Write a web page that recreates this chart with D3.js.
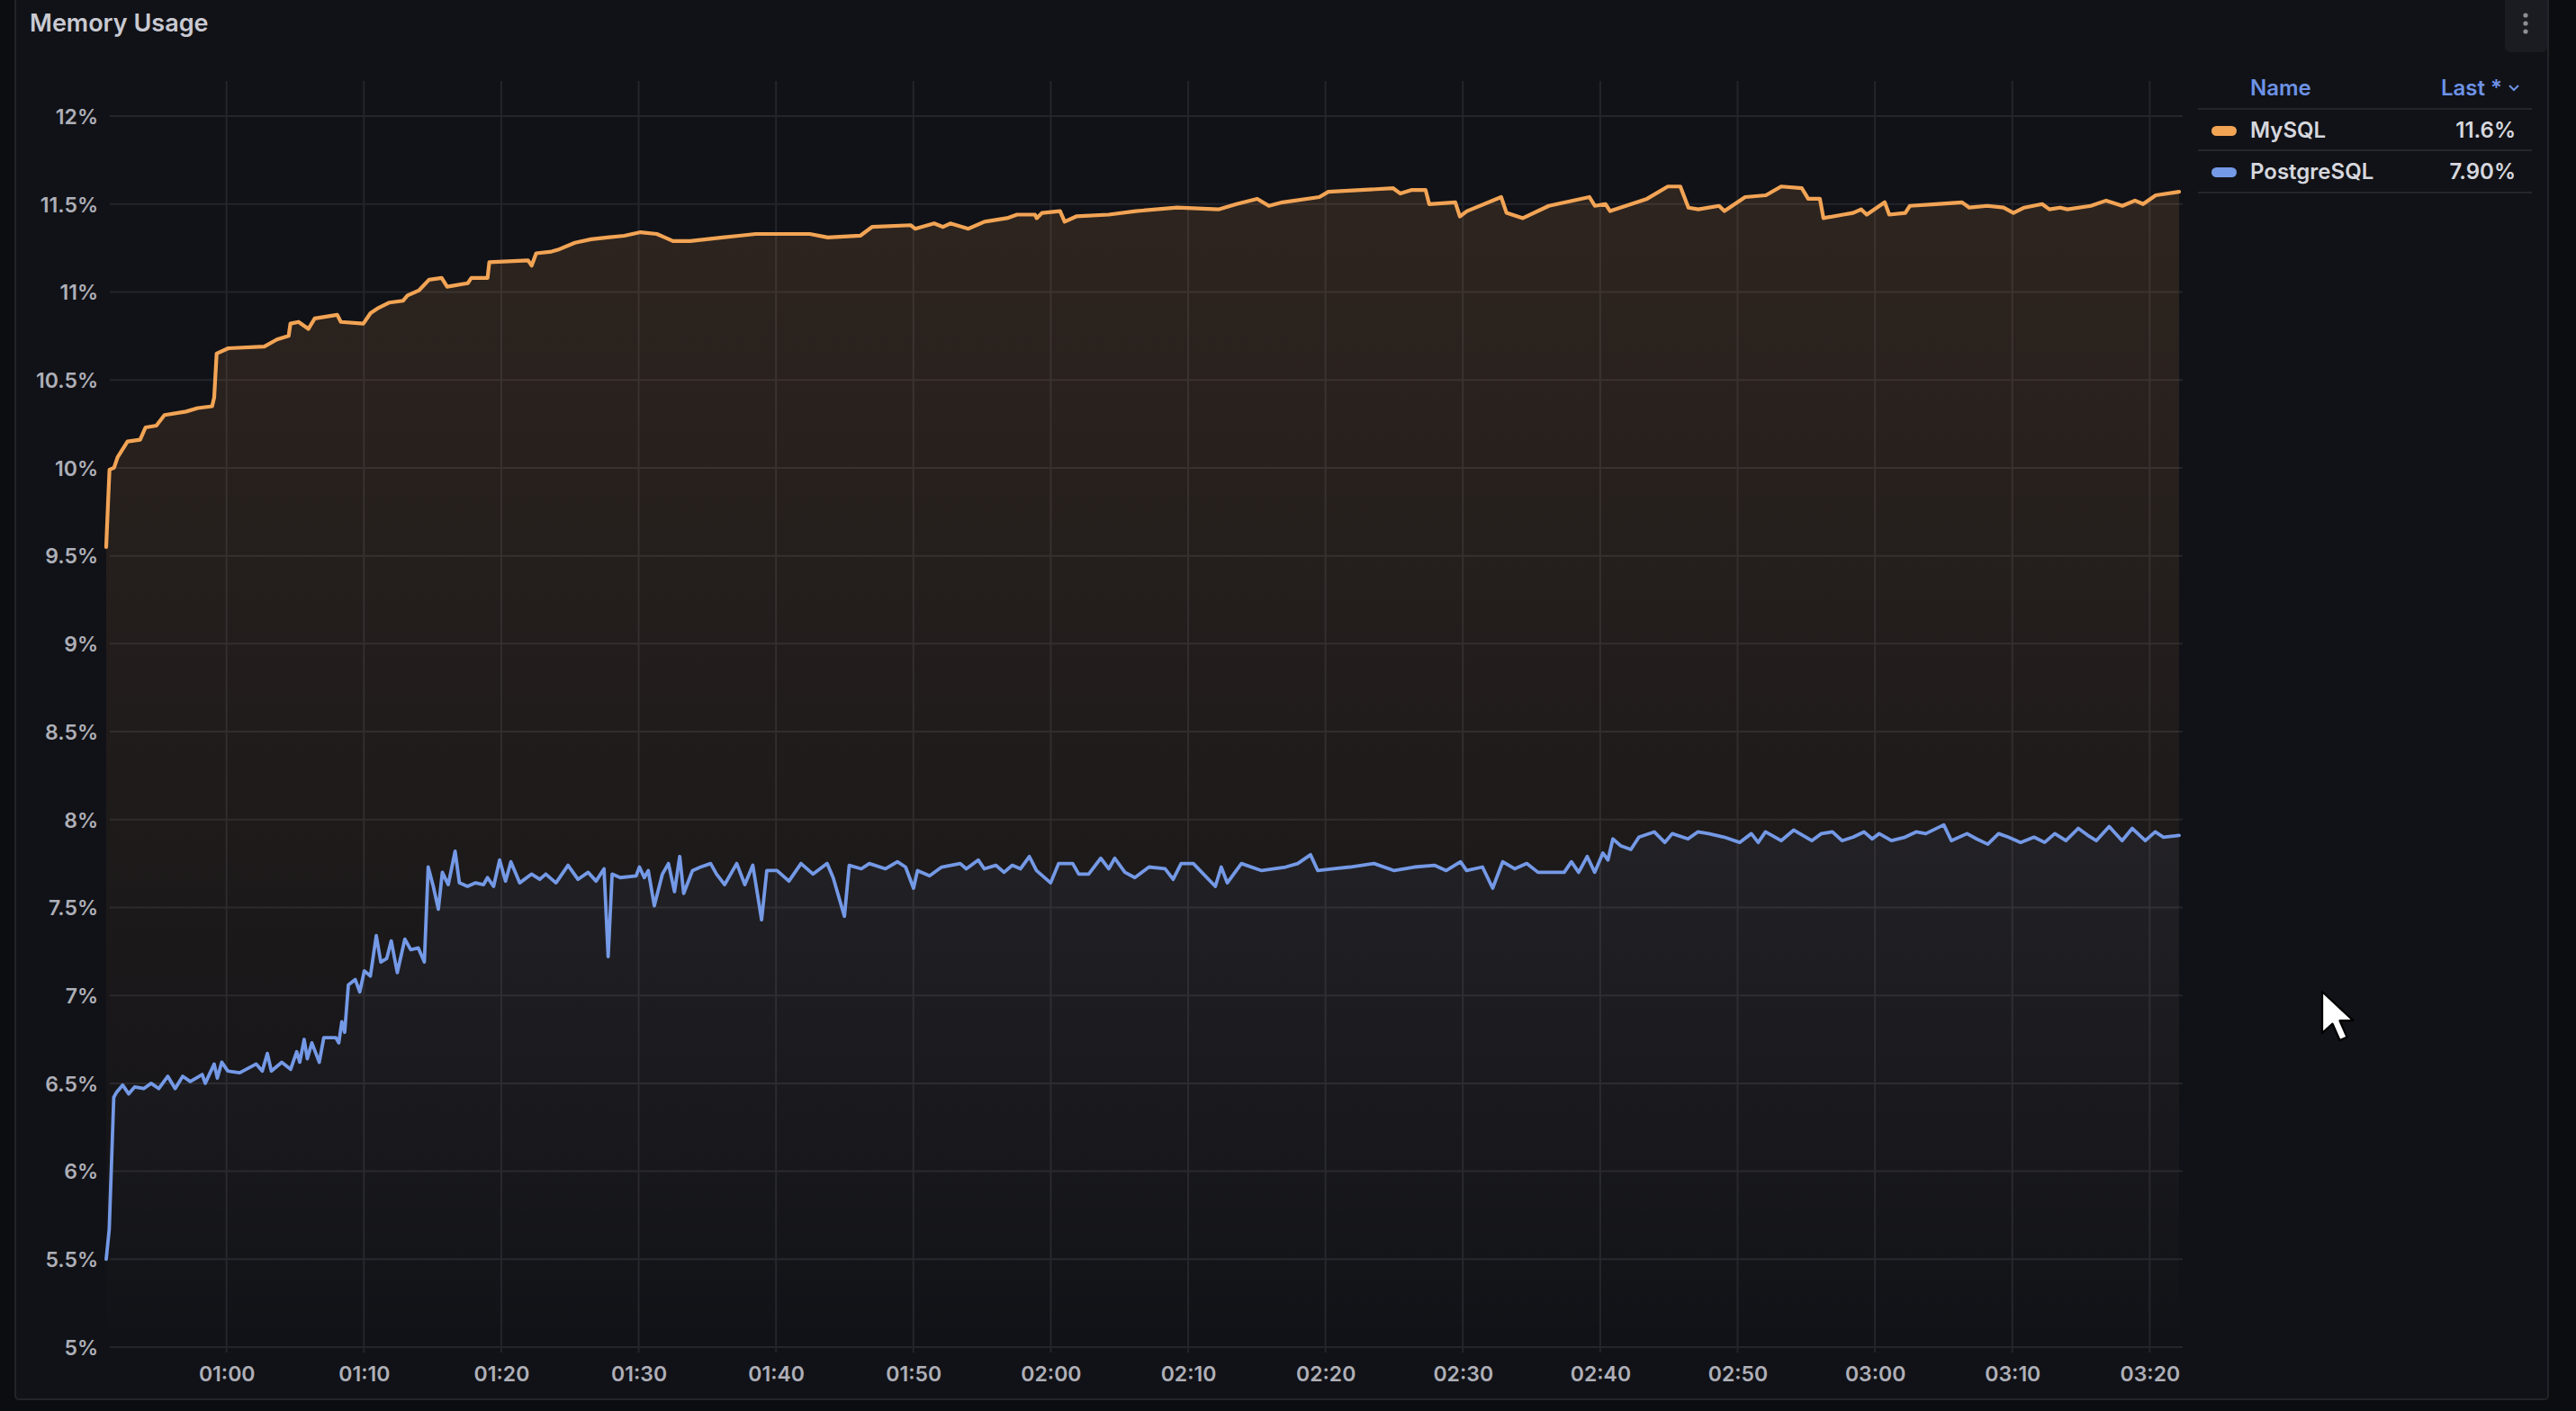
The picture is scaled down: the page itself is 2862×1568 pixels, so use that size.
<!DOCTYPE html>
<html><head><meta charset="utf-8">
<script src="https://cdn.jsdelivr.net/npm/d3@7"></script>
<style>
html,body{margin:0;padding:0;background:#0c0d10;overflow:hidden;}
svg{display:block;font-family:Inter,"Noto Sans",sans-serif;}
</style></head><body>
<svg id="chart" width="2862" height="1568"></svg>
<script>
// ---------- data ----------
const panelTitle = "Memory Usage";
const seriesNames = ["MySQL", "PostgreSQL"];
const seriesColors = ["#f2a455", "#7499e6"];
const legendHeader = ["Name", "Last *"];
const legendLast = ["11.6%", "7.90%"];
const yTickValues = [5, 5.5, 6, 6.5, 7, 7.5, 8, 8.5, 9, 9.5, 10, 10.5, 11, 11.5, 12];
const yDomain = [5, 12.2];
// minutes since midnight
const xDomainMinutes = [51.24, 202.4];
const xTickMinutes = [60, 70, 80, 90, 100, 110, 120, 130, 140, 150, 160, 170, 180, 190, 200];

// [minutes since midnight, percent]
const mysqlPoints = [
[51.24,9.55],[51.40,9.85],[51.48,9.99],[51.81,10.00],[52.07,10.06],[52.79,10.15],[53.71,10.16],[54.10,10.23],[54.89,10.24],[55.48,10.30],[57.05,10.32],[57.90,10.34],[58.95,10.35],[59.10,10.40],[59.28,10.65],[60.13,10.68],[62.75,10.69],[63.67,10.73],[64.52,10.75],[64.65,10.82],[65.24,10.83],[65.96,10.79],[66.42,10.85],[68.06,10.87],[68.32,10.83],[69.96,10.82],[70.48,10.88],[71.07,10.91],[71.86,10.94],[72.84,10.95],[73.17,10.98],[74.02,11.01],[74.74,11.07],[75.66,11.08],[76.06,11.03],[77.56,11.05],[77.82,11.08],[79.00,11.08],[79.13,11.17],[81.95,11.18],[82.21,11.15],[82.54,11.22],[83.66,11.23],[84.12,11.24],[85.36,11.28],[86.54,11.30],[87.72,11.31],[88.96,11.32],[90.14,11.34],[91.32,11.33],[91.91,11.31],[92.50,11.29],[93.75,11.29],[94.93,11.30],[96.11,11.31],[97.29,11.32],[98.53,11.33],[99.71,11.33],[100.89,11.33],[102.46,11.33],[103.77,11.31],[106.13,11.32],[106.99,11.37],[109.80,11.38],[110.13,11.36],[111.51,11.39],[112.16,11.37],[112.69,11.39],[114.00,11.36],[115.18,11.40],[116.82,11.42],[117.54,11.44],[118.85,11.44],[118.98,11.42],[119.37,11.45],[120.68,11.46],[121.01,11.40],[121.86,11.43],[124.22,11.44],[126.19,11.46],[129.20,11.48],[132.21,11.47],[133.53,11.50],[135.03,11.53],[135.88,11.49],[136.87,11.51],[139.55,11.54],[140.21,11.57],[142.57,11.58],[144.93,11.59],[145.45,11.56],[146.24,11.58],[147.29,11.58],[147.55,11.50],[149.45,11.51],[149.78,11.43],[150.30,11.46],[152.79,11.54],[153.18,11.45],[154.37,11.42],[156.26,11.49],[159.21,11.54],[159.61,11.49],[160.39,11.50],[160.72,11.46],[163.41,11.53],[164.92,11.60],[165.83,11.60],[166.42,11.48],[167.14,11.47],[168.65,11.49],[169.04,11.46],[170.55,11.54],[172.06,11.55],[173.17,11.60],[174.68,11.59],[175.14,11.53],[175.99,11.53],[176.25,11.42],[177.69,11.44],[178.41,11.45],[179.00,11.47],[179.40,11.44],[180.71,11.51],[181.04,11.44],[182.21,11.45],[182.54,11.49],[184.44,11.50],[186.34,11.51],[186.87,11.48],[188.18,11.49],[189.36,11.48],[190.08,11.45],[190.87,11.48],[192.17,11.50],[192.70,11.47],[193.49,11.48],[194.01,11.47],[195.72,11.49],[196.83,11.52],[198.01,11.49],[198.93,11.52],[199.52,11.50],[200.44,11.55],[202.14,11.57]
];

const postgresPoints = [
[51.24,5.50],[51.46,5.67],[51.79,6.42],[52.00,6.45],[52.44,6.49],[52.88,6.44],[53.32,6.48],[53.97,6.47],[54.51,6.50],[55.07,6.47],[55.72,6.54],[56.26,6.47],[56.81,6.54],[57.36,6.51],[58.23,6.55],[58.45,6.50],[59.10,6.61],[59.33,6.53],[59.65,6.62],[60.09,6.57],[60.96,6.56],[62.16,6.61],[62.60,6.57],[62.97,6.67],[63.26,6.57],[64.02,6.62],[64.67,6.58],[65.11,6.68],[65.33,6.62],[65.65,6.75],[65.88,6.64],[66.21,6.73],[66.75,6.62],[67.08,6.76],[67.95,6.76],[68.17,6.73],[68.39,6.85],[68.60,6.79],[68.87,7.06],[69.37,7.09],[69.70,7.02],[70.03,7.14],[70.47,7.11],[70.90,7.34],[71.23,7.19],[71.66,7.21],[71.99,7.31],[72.43,7.13],[72.98,7.32],[73.41,7.26],[73.96,7.27],[74.40,7.19],[74.68,7.73],[75.05,7.62],[75.42,7.49],[75.71,7.70],[76.14,7.63],[76.64,7.82],[76.95,7.64],[77.54,7.62],[78.13,7.64],[78.71,7.63],[79.00,7.67],[79.44,7.62],[79.88,7.77],[80.31,7.65],[80.70,7.76],[81.34,7.64],[82.21,7.69],[82.80,7.66],[83.24,7.69],[83.98,7.64],[84.86,7.74],[85.58,7.66],[86.32,7.70],[86.90,7.65],[87.48,7.72],[87.78,7.22],[88.07,7.69],[88.66,7.67],[89.82,7.68],[90.06,7.73],[90.41,7.67],[90.70,7.71],[91.14,7.51],[91.73,7.69],[92.17,7.75],[92.61,7.59],[92.99,7.79],[93.28,7.58],[93.92,7.71],[94.51,7.73],[95.24,7.75],[95.67,7.69],[96.26,7.63],[97.14,7.75],[97.73,7.63],[98.31,7.74],[98.95,7.43],[99.33,7.71],[100.07,7.71],[100.94,7.65],[101.82,7.75],[102.70,7.69],[103.72,7.75],[104.16,7.67],[104.98,7.45],[105.33,7.74],[106.21,7.72],[106.79,7.75],[107.97,7.72],[108.84,7.76],[109.43,7.73],[110.01,7.61],[110.30,7.71],[111.18,7.68],[112.06,7.73],[113.41,7.75],[113.85,7.72],[114.72,7.77],[115.16,7.72],[116.0,7.74],[116.6,7.70],[117.2,7.74],[117.80,7.72],[118.44,7.79],[118.96,7.71],[119.99,7.64],[120.57,7.75],[121.60,7.75],[122.04,7.69],[122.76,7.69],[123.64,7.78],[124.22,7.72],[124.66,7.78],[125.40,7.70],[126.12,7.67],[127.15,7.73],[128.32,7.72],[128.91,7.66],[129.49,7.75],[130.38,7.75],[131.98,7.62],[132.41,7.73],[132.85,7.64],[133.88,7.75],[135.35,7.71],[137.10,7.73],[137.98,7.75],[138.91,7.80],[139.44,7.71],[140.60,7.72],[141.78,7.73],[143.54,7.75],[145.00,7.71],[146.46,7.73],[147.93,7.74],[148.79,7.71],[149.83,7.76],[150.27,7.71],[151.43,7.73],[152.17,7.61],[152.90,7.76],[153.77,7.72],[154.65,7.75],[155.47,7.70],[157.38,7.70],[157.90,7.76],[158.43,7.70],[159.05,7.79],[159.60,7.70],[160.19,7.81],[160.56,7.77],[160.92,7.89],[161.51,7.85],[162.23,7.83],[162.82,7.90],[163.93,7.93],[164.70,7.87],[165.24,7.92],[166.39,7.89],[167.1,7.93],[167.89,7.92],[169.02,7.90],[170.15,7.87],[171.0,7.92],[171.5,7.87],[172.03,7.93],[173.17,7.88],[174.08,7.94],[175.40,7.88],[176.1,7.92],[176.90,7.93],[177.6,7.88],[178.41,7.90],[179.2,7.93],[179.8,7.89],[180.31,7.92],[181.2,7.88],[182.19,7.90],[183.0,7.93],[183.70,7.92],[185.01,7.97],[185.56,7.88],[186.70,7.92],[187.4,7.89],[188.21,7.86],[189.0,7.92],[189.71,7.90],[190.6,7.87],[191.58,7.90],[192.35,7.87],[193.09,7.92],[193.9,7.88],[194.80,7.95],[195.5,7.91],[196.11,7.88],[197.05,7.96],[197.99,7.88],[198.73,7.95],[199.68,7.88],[200.4,7.93],[201.00,7.90],[202.14,7.91]
];

// ---------- drawing ----------
const W = 2862, H = 1568;
const plot = {left: 118, right: 2425, top: 90, bottom: 1497};
const base = new Date(2024, 0, 1, 0, 0, 0);
const toDate = m => new Date(base.getTime() + m * 60000);

const svg = d3.select("#chart");
const defs = svg.append("defs");

// backgrounds
svg.append("rect").attr("width", W).attr("height", H).attr("fill", "#0c0d10");
svg.append("rect").attr("x", 17).attr("y", -20).attr("width", 2831 - 17).attr("height", 1555 + 20)
  .attr("rx", 4).attr("fill", "#111217").attr("stroke", "#23242a").attr("stroke-width", 2);

// title
svg.append("text").attr("x", 33).attr("y", 35).text(panelTitle)
  .attr("fill", "#c9cad2").attr("font-size", 27).attr("font-weight", 600);

// menu button
svg.append("rect").attr("x", 2783).attr("y", -8).attr("width", 47).attr("height", 66).attr("rx", 6).attr("fill", "#1b1c21");
[17, 26, 35].forEach(cy => svg.append("circle").attr("cx", 2806).attr("cy", cy).attr("r", 2.6).attr("fill", "#8d8e96"));

const x = d3.scaleTime().domain(xDomainMinutes.map(toDate)).range([plot.left, plot.right]);
const y = d3.scaleLinear().domain(yDomain).range([plot.bottom, plot.top]);

// grid
const grid = svg.append("g");
grid.selectAll("line.h").data(yTickValues).join("line")
  .attr("x1", 122).attr("x2", plot.right)
  .attr("y1", d => y(d)).attr("y2", d => y(d))
  .attr("stroke", "#24252b").attr("stroke-width", 2);
grid.selectAll("line.v").data(xTickMinutes).join("line")
  .attr("x1", d => x(toDate(d))).attr("x2", d => x(toDate(d)))
  .attr("y1", plot.top).attr("y2", plot.bottom + 6)
  .attr("stroke", "#24252b").attr("stroke-width", 2);

// axes via d3 axis generators
const yAxis = d3.axisLeft(y).tickValues(yTickValues).tickFormat(d => d + "%").tickSize(0).tickPadding(0);
const gy = svg.append("g").attr("transform", "translate(109,0)").call(yAxis);
gy.select(".domain").remove();
gy.selectAll("text").attr("fill", "#aeafb7").attr("font-size", 23).attr("font-family", "Inter,'Noto Sans',sans-serif")
  .attr("font-weight", 600).attr("dy", "0.36em").attr("x", 0);

const xAxis = d3.axisBottom(x).tickValues(xTickMinutes.map(toDate)).tickFormat(d3.timeFormat("%H:%M")).tickSize(0).tickPadding(0);
const gx = svg.append("g").attr("transform", "translate(0,1535)").call(xAxis);
gx.select(".domain").remove();
gx.selectAll("text").attr("fill", "#aeafb7").attr("font-size", 23).attr("font-family", "Inter,'Noto Sans',sans-serif")
  .attr("font-weight", 600).attr("dy", 0).attr("y", 0);

// series
const series = [mysqlPoints, postgresPoints];
series.forEach((pts, i) => {
  const gid = "grad" + i;
  const g = defs.append("linearGradient").attr("id", gid).attr("gradientUnits", "userSpaceOnUse")
    .attr("x1", 0).attr("x2", 0).attr("y1", plot.top).attr("y2", plot.bottom);
  g.append("stop").attr("offset", 0).attr("stop-color", seriesColors[i]).attr("stop-opacity", i === 0 ? 0.14 : 0.13);
  g.append("stop").attr("offset", 1).attr("stop-color", seriesColors[i]).attr("stop-opacity", 0.0);
  const area = d3.area().x(d => x(toDate(d[0]))).y0(plot.bottom).y1(d => y(d[1]));
  svg.append("path").datum(pts).attr("d", area).attr("fill", `url(#${gid})`);
});
series.forEach((pts, i) => {
  const line = d3.line().x(d => x(toDate(d[0]))).y(d => y(d[1]));
  svg.append("path").datum(pts).attr("d", line).attr("fill", "none")
    .attr("stroke", seriesColors[i]).attr("stroke-width", i === 0 ? 4.2 : 3.8)
    .attr("stroke-linejoin", "round").attr("stroke-linecap", "round");
});

// legend table
const lg = svg.append("g");
lg.append("text").attr("x", 2500).attr("y", 106).text(legendHeader[0])
  .attr("fill", "#6d92e6").attr("font-size", 24).attr("font-weight", 600);
lg.append("text").attr("x", 2780).attr("y", 106).attr("text-anchor", "end").text(legendHeader[1])
  .attr("fill", "#6d92e6").attr("font-size", 24).attr("font-weight", 600);
lg.append("path").attr("d", "M2788,95 L2793,100 L2798,95").attr("fill", "none")
  .attr("stroke", "#6d92e6").attr("stroke-width", 2);
[121, 167, 214].forEach(yy => lg.append("line").attr("x1", 2442).attr("x2", 2813).attr("y1", yy).attr("y2", yy)
  .attr("stroke", "#25262c").attr("stroke-width", 2));
const rowY = [153, 199];
seriesNames.forEach((name, i) => {
  lg.append("rect").attr("x", 2457).attr("y", rowY[i] - 13).attr("width", 28).attr("height", 11).attr("rx", 5.5)
    .attr("fill", seriesColors[i]);
  lg.append("text").attr("x", 2500).attr("y", rowY[i]).text(name)
    .attr("fill", "#d6d7de").attr("font-size", 24).attr("font-weight", 600);
  lg.append("text").attr("x", 2795).attr("y", rowY[i]).attr("text-anchor", "end").text(legendLast[i])
    .attr("fill", "#d6d7de").attr("font-size", 24).attr("font-weight", 600);
});

// mouse pointer seen in the screenshot
svg.append("path")
  .attr("d", "M0,0 L0,40 L10,31 L17,47 L24,44 L17,28 L30,28 Z")
  .attr("transform", "translate(2580,1102) scale(1.15)")
  .attr("fill", "#ffffff").attr("stroke", "#000").attr("stroke-width", 2).attr("stroke-linejoin", "round");
</script>
</body></html>
